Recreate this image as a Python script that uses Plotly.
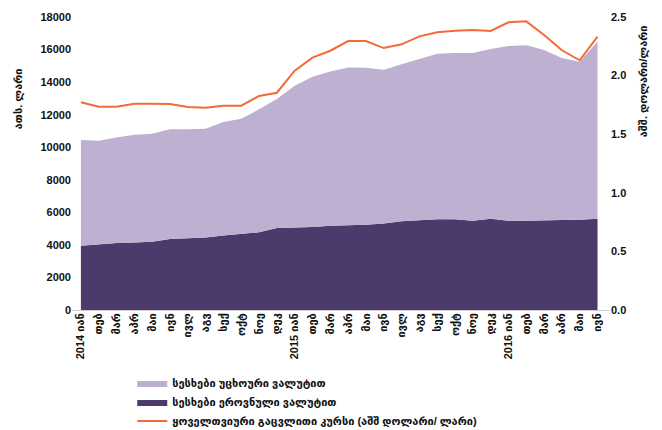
import plotly.graph_objects as go

months = ["იან", "თებ", "მარ", "აპრ", "მაი", "ივნ", "ივლ", "აგვ", "სექ", "ოქტ", "ნოე", "დეკ"]
tick_labels = (["2014 იან"] + months[1:] + ["2015 იან"] + months[1:] + ["2016 იან"] + months[1:6])

national = [3950, 4030, 4110, 4140, 4200, 4360, 4400, 4460, 4580, 4670, 4770, 5040, 5060, 5100, 5170,
            5200, 5240, 5320, 5450, 5510, 5570, 5570, 5490, 5610, 5490, 5490, 5530, 5530, 5550, 5610]
foreign = [6500, 6370, 6490, 6630, 6630, 6740, 6700, 6680, 6970, 7080, 7560, 7920, 8720, 9230, 9480,
           9700, 9640, 9440, 9640, 9930, 10180, 10220, 10300, 10420, 10730, 10770, 10440, 9950, 9700, 10890]
rate = [1.772, 1.735, 1.735, 1.760, 1.760, 1.758, 1.732, 1.726, 1.743, 1.743, 1.826, 1.854, 2.042, 2.153, 2.212,
        2.295, 2.295, 2.235, 2.267, 2.335, 2.369, 2.383, 2.389, 2.381, 2.455, 2.463, 2.346, 2.216, 2.131, 2.332]

x = list(range(len(tick_labels)))

FONT = "Liberation Sans, DejaVu Sans, sans-serif"

fig = go.Figure()
fig.add_trace(go.Scatter(x=x, y=national, stackgroup="loans", mode="lines",
                         line=dict(width=0, color="#4b3a6b"), fillcolor="#4b3a6b",
                         name="სესხები ეროვნული ვალუტით", legendrank=2))
fig.add_trace(go.Scatter(x=x, y=foreign, stackgroup="loans", mode="lines",
                         line=dict(width=0, color="#bdb0d0"), fillcolor="#bdb0d0",
                         name="სესხები უცხოური ვალუტით", legendrank=1))
fig.add_trace(go.Scatter(x=x, y=rate, yaxis="y2", mode="lines",
                         line=dict(width=2, color="#f26b38"),
                         name="ყოველთვიური გაცვლითი კურსი (აშშ დოლარი/ ლარი)", legendrank=3))

fig.update_layout(
    width=662, height=430,
    margin=dict(l=72, r=52, t=17, b=120, autoexpand=False),
    paper_bgcolor="white", plot_bgcolor="white",
    font=dict(family=FONT, size=11, color="#111111", weight="bold"),
    xaxis=dict(range=[-0.5, 29.7], tickmode="array", tickvals=x, ticktext=tick_labels,
               tickangle=-90, showgrid=False, zeroline=False, showline=False, ticks="",
               tickfont=dict(size=11, weight="bold")),
    yaxis=dict(range=[0, 18000], dtick=2000, tickformat="d", showgrid=False, zeroline=True,
               zerolinecolor="#d0d0d0", zerolinewidth=1, showline=False, ticks="",
               tickfont=dict(size=11, weight="bold")),
    yaxis2=dict(range=[0, 2.5], dtick=0.5, tickformat=".1f", overlaying="y", side="right",
                showgrid=False, zeroline=False, showline=False, ticks="",
                tickfont=dict(size=11, weight="bold")),
    legend=dict(x=0.112, y=-0.2, xanchor="left", yanchor="top", orientation="v",
                traceorder="normal", font=dict(size=11, weight="bold"), tracegroupgap=0,
                itemwidth=30, bgcolor="rgba(0,0,0,0)"),
    showlegend=True,
)

fig.add_annotation(text="ათს. ლარი", xref="paper", yref="paper", x=-0.100, y=0.72,
                   xanchor="center", yanchor="middle",
                   textangle=-90, showarrow=False, font=dict(size=11, weight="bold"))
fig.add_annotation(text="აშშ. დოლარი/ლარი", xref="paper", yref="paper", x=1.063, y=0.78,
                   xanchor="center", yanchor="middle",
                   textangle=-90, showarrow=False, font=dict(size=11, weight="bold"))

fig.write_html("out.html", config={"displayModeBar": False},
               post_script="document.body.style.margin='0';")
